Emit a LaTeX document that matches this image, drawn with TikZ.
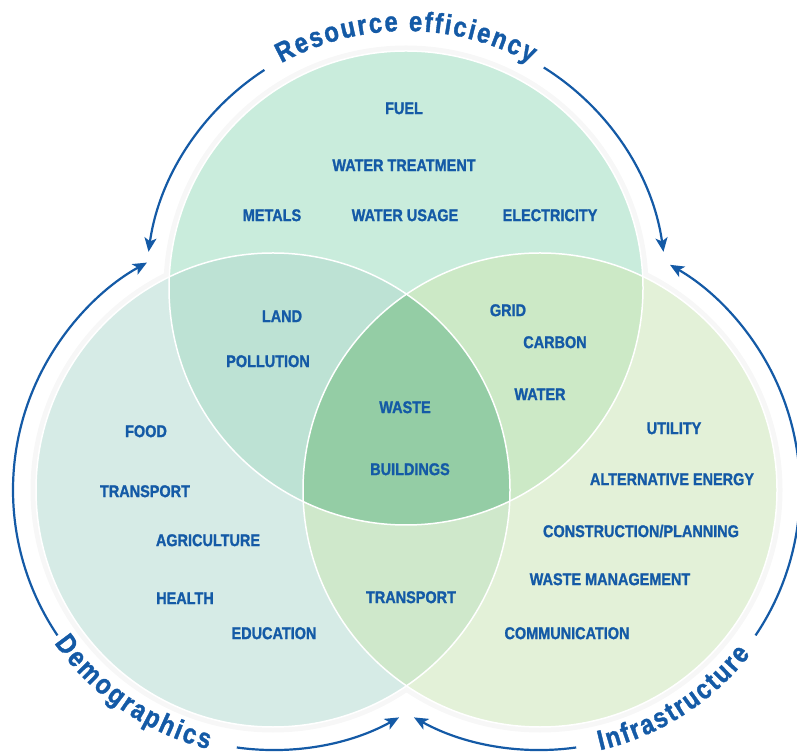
\documentclass[tikz,border=0pt]{standalone}
\usepackage{fontspec}
\newfontfamily\condfont{Liberation Sans Bold}[FakeStretch=0.85,FakeBold=1.3]
\usetikzlibrary{arrows.meta,decorations.text}
\definecolor{myblue}{RGB}{20,90,166}
\definecolor{topc}{HTML}{C9ECDC}
\definecolor{leftc}{HTML}{D6EBE6}
\definecolor{rightc}{HTML}{E3F1D8}
\definecolor{tlc}{HTML}{BDE2D4}
\definecolor{trc}{HTML}{CCE9C6}
\definecolor{lrc}{HTML}{CFE8CB}
\definecolor{cc}{HTML}{94CDA5}
\newcommand\vennrad{237pt}
\begin{document}
\begin{tikzpicture}[x=1pt,y=1pt,
  item/.style={font=\condfont\fontsize{17}{20}\selectfont, text=myblue, inner sep=0pt, text height=12.2pt, text depth=0pt},
  cyc/.style={draw=myblue, line width=2.2pt, -{Stealth[length=14pt,width=12pt,inset=3.5pt]}},
  venn/.style={draw=white, line width=1.5pt},
  halo/.style={draw=black!3, line width=5pt},
  biglabel/.style={decorate, decoration={text along path, text color=myblue, text align={fit to path}, text={#1}}}
]
\useasboundingbox (0,0) rectangle (797,755);
\coordinate (T) at (406,467);
\coordinate (L) at (273,265);
\coordinate (R) at (540,265);

% halo
\foreach \c in {T,L,R} \draw[halo] (\c) circle[radius=240pt];

% single fills
\fill[topc] (T) circle[radius=\vennrad];
\fill[leftc] (L) circle[radius=\vennrad];
\fill[rightc] (R) circle[radius=\vennrad];
% pairwise
\begin{scope}
  \clip (T) circle[radius=\vennrad];
  \fill[tlc] (L) circle[radius=\vennrad];
  \fill[trc] (R) circle[radius=\vennrad];
\end{scope}
\begin{scope}
  \clip (L) circle[radius=\vennrad];
  \fill[lrc] (R) circle[radius=\vennrad];
\end{scope}
% triple
\begin{scope}
  \clip (T) circle[radius=\vennrad];
  \clip (L) circle[radius=\vennrad];
  \fill[cc] (R) circle[radius=\vennrad];
\end{scope}
% outlines
\foreach \c in {T,L,R} \draw[venn] (\c) circle[radius=\vennrad];

% cycle arrows
\draw[cyc] ([shift={(123:260pt)}]T) arc[start angle=123,end angle=172,radius=260pt];
\draw[cyc] ([shift={(58:260pt)}]T) arc[start angle=58,end angle=8,radius=260pt];
\draw[cyc] ([shift={(-34:260pt)}]R) arc[start angle=-34,end angle=60,radius=260pt];
\draw[cyc] ([shift={(278:260pt)}]R) arc[start angle=278,end angle=241,radius=260pt];
\draw[cyc] ([shift={(214:260pt)}]L) arc[start angle=214,end angle=119,radius=260pt];
\draw[cyc] ([shift={(262:260pt)}]L) arc[start angle=262,end angle=299,radius=260pt];

% curved labels
\path[biglabel={|\condfont\fontsize{28}{30}\selectfont|Resource efficiency}]
  ([shift={(119:257pt)}]T) arc[start angle=119,end angle=61,radius=257pt];
\path[biglabel={|\condfont\fontsize{28}{30}\selectfont|Demographics}]
  ([shift={(215:267pt)}]L) arc[start angle=215,end angle=256,radius=267pt];
\path[biglabel={|\condfont\fontsize{28}{30}\selectfont|Infrastructure}]
  ([shift={(283:267pt)}]R) arc[start angle=283,end angle=322,radius=267pt];

% items
\node[item] (fuel) at (404,647) {FUEL};
\node[item] (wtreat) at (404,590) {WATER TREATMENT};
\node[item] (metals) at (272,540) {METALS};
\node[item] (wusage) at (405,540) {WATER USAGE};
\node[item] (elec) at (550,540) {ELECTRICITY};
\node[item] (land) at (282,439) {LAND};
\node[item] (poll) at (268,394) {POLLUTION};
\node[item] (grid) at (508,445) {GRID};
\node[item] (carbon) at (555,413) {CARBON};
\node[item] (water) at (540,361) {WATER};
\node[item] (waste) at (405,348) {WASTE};
\node[item] (build) at (410,286) {BUILDINGS};
\node[item] (food) at (146,324) {FOOD};
\node[item] (transl) at (145,264) {TRANSPORT};
\node[item] (agri) at (208,215) {AGRICULTURE};
\node[item] (health) at (185,157) {HEALTH};
\node[item] (edu) at (274,122) {EDUCATION};
\node[item] (transb) at (411,158) {TRANSPORT};
\node[item] (util) at (674,327) {UTILITY};
\node[item] (alt) at (672,276) {ALTERNATIVE ENERGY};
\node[item] (constr) at (641,224) {CONSTRUCTION/PLANNING};
\node[item] (wmgmt) at (610,176) {WASTE MANAGEMENT};
\node[item] (comm) at (567,122) {COMMUNICATION};
\end{tikzpicture}
\end{document}
